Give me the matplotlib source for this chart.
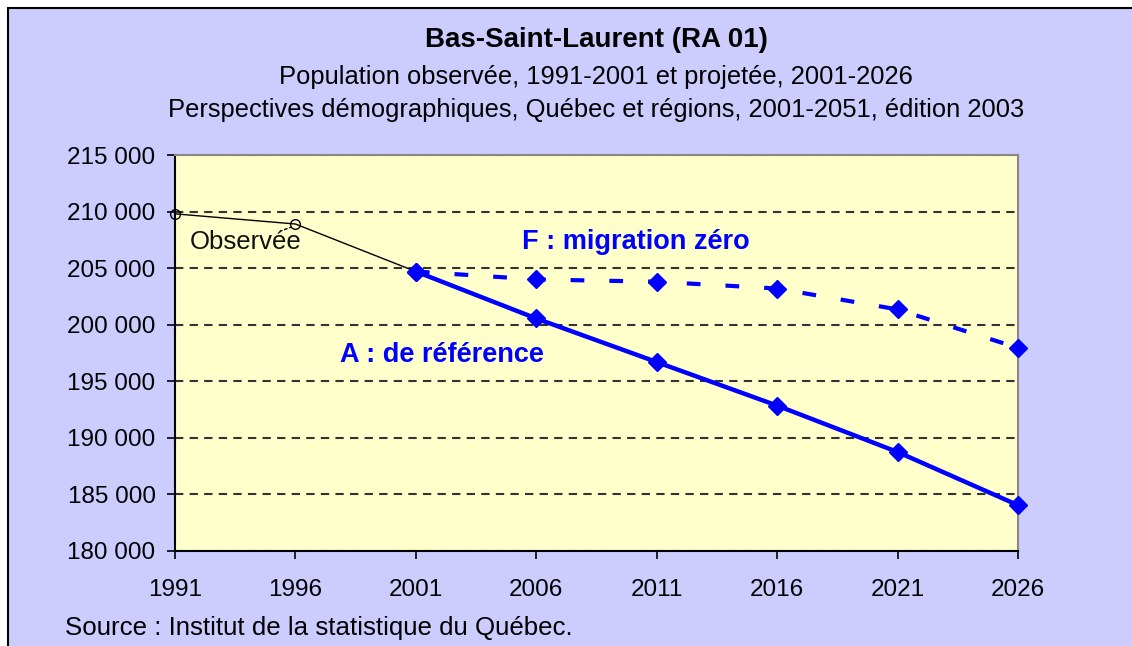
import matplotlib
matplotlib.use('Agg')
import matplotlib.pyplot as plt
from matplotlib.patches import Rectangle
from matplotlib.ticker import FuncFormatter

plt.rcParams['font.family'] = ['Liberation Sans', 'DejaVu Sans']

# Data
obs_years = [1991, 1996, 2001]
obs_pop = [209800, 208900, 204700]

proj_years = [2001, 2006, 2011, 2016, 2021, 2026]
pop_a = [204700, 200550, 196700, 192850, 188750, 184050]   # A : de référence
pop_f = [204700, 204000, 203800, 203200, 201350, 197950]   # F : migration zéro

x_ticks = [1991, 1996, 2001, 2006, 2011, 2016, 2021, 2026]

blue = '#0000FF'

fig = plt.figure(figsize=(11.32, 6.46), dpi=100, facecolor='white')

# lavender chart frame (cropped on right/bottom like the screenshot)
fig.patches.append(Rectangle((8/1132, -0.1), 1.2, 1.1 - 8/646, transform=fig.transFigure,
                             facecolor='#CCCCFF', edgecolor='black', linewidth=1.5, zorder=-10))

ax = fig.add_axes([175/1132, 1 - 551/646, (1018 - 175)/1132, (551 - 155)/646])
ax.set_facecolor('#FFFFCC')

# observed population
ax.plot(obs_years, obs_pop, color='black', linewidth=1, marker='o', markersize=7,
        markerfacecolor='none', markeredgecolor='black', zorder=3, clip_on=False)

# scenario A
ax.plot(proj_years, pop_a, color=blue, linewidth=3.2, marker='D', markersize=9, zorder=4,
        clip_on=False)

# scenario F
ax.plot(proj_years, pop_f, color=blue, linewidth=3, linestyle=(0, (3.3, 6)),
        marker='D', markersize=9, zorder=4, clip_on=False)

ax.set_xlim(1991, 2026)
ax.set_ylim(180000, 215000)
ax.set_xticks(x_ticks)
ax.set_yticks(range(180000, 215001, 5000))
ax.yaxis.set_major_formatter(FuncFormatter(lambda v, p: f'{int(v):,}'.replace(',', ' ')))
ax.tick_params(direction='out', length=6, width=1.2, labelsize=17.5, colors='black')
ax.tick_params(axis='y', pad=8)
ax.tick_params(axis='x', pad=14)

ax.grid(axis='y', color='#333333', linestyle=(0, (4, 3)), linewidth=1.5)
ax.set_axisbelow(True)

for side in ['top', 'right']:
    ax.spines[side].set_color('#888888')
    ax.spines[side].set_linewidth(1.5)
for side in ['left', 'bottom']:
    ax.spines[side].set_color('black')
    ax.spines[side].set_linewidth(1.5)

# labels in the plot
ax.annotate('Observée', xy=(1995.8, 208600), xytext=(1991.6, 207350), fontsize=18.5,
            ha='left', va='center', color='#111111',
            arrowprops=dict(arrowstyle='-', linestyle=(0, (2, 2)), color='black', linewidth=1,
                            shrinkA=0, shrinkB=0, relpos=(0.85, 1)))
ax.text(2005.4, 207350, 'F : migration zéro', fontsize=19.5, fontweight='bold', color=blue,
        ha='left', va='center')
ax.text(1997.85, 197350, 'A : de référence', fontsize=19.5, fontweight='bold', color=blue,
        ha='left', va='center')

# titles and source
fig.text(596/1132, 1 - 40/646, 'Bas-Saint-Laurent (RA 01)', fontsize=20, fontweight='bold',
         ha='center', va='center')
fig.text(596/1132, 1 - 77/646, 'Population observée, 1991-2001 et projetée, 2001-2026',
         fontsize=18.4, ha='center', va='center')
fig.text(596/1132, 1 - 110/646,
         'Perspectives démographiques, Québec et régions, 2001-2051, édition 2003',
         fontsize=18.4, ha='center', va='center')
fig.text(65/1132, 1 - 628/646, 'Source : Institut de la statistique du Québec.',
         fontsize=18.6, ha='left', va='center')

fig.savefig('out.png', dpi=100, facecolor=fig.get_facecolor())
